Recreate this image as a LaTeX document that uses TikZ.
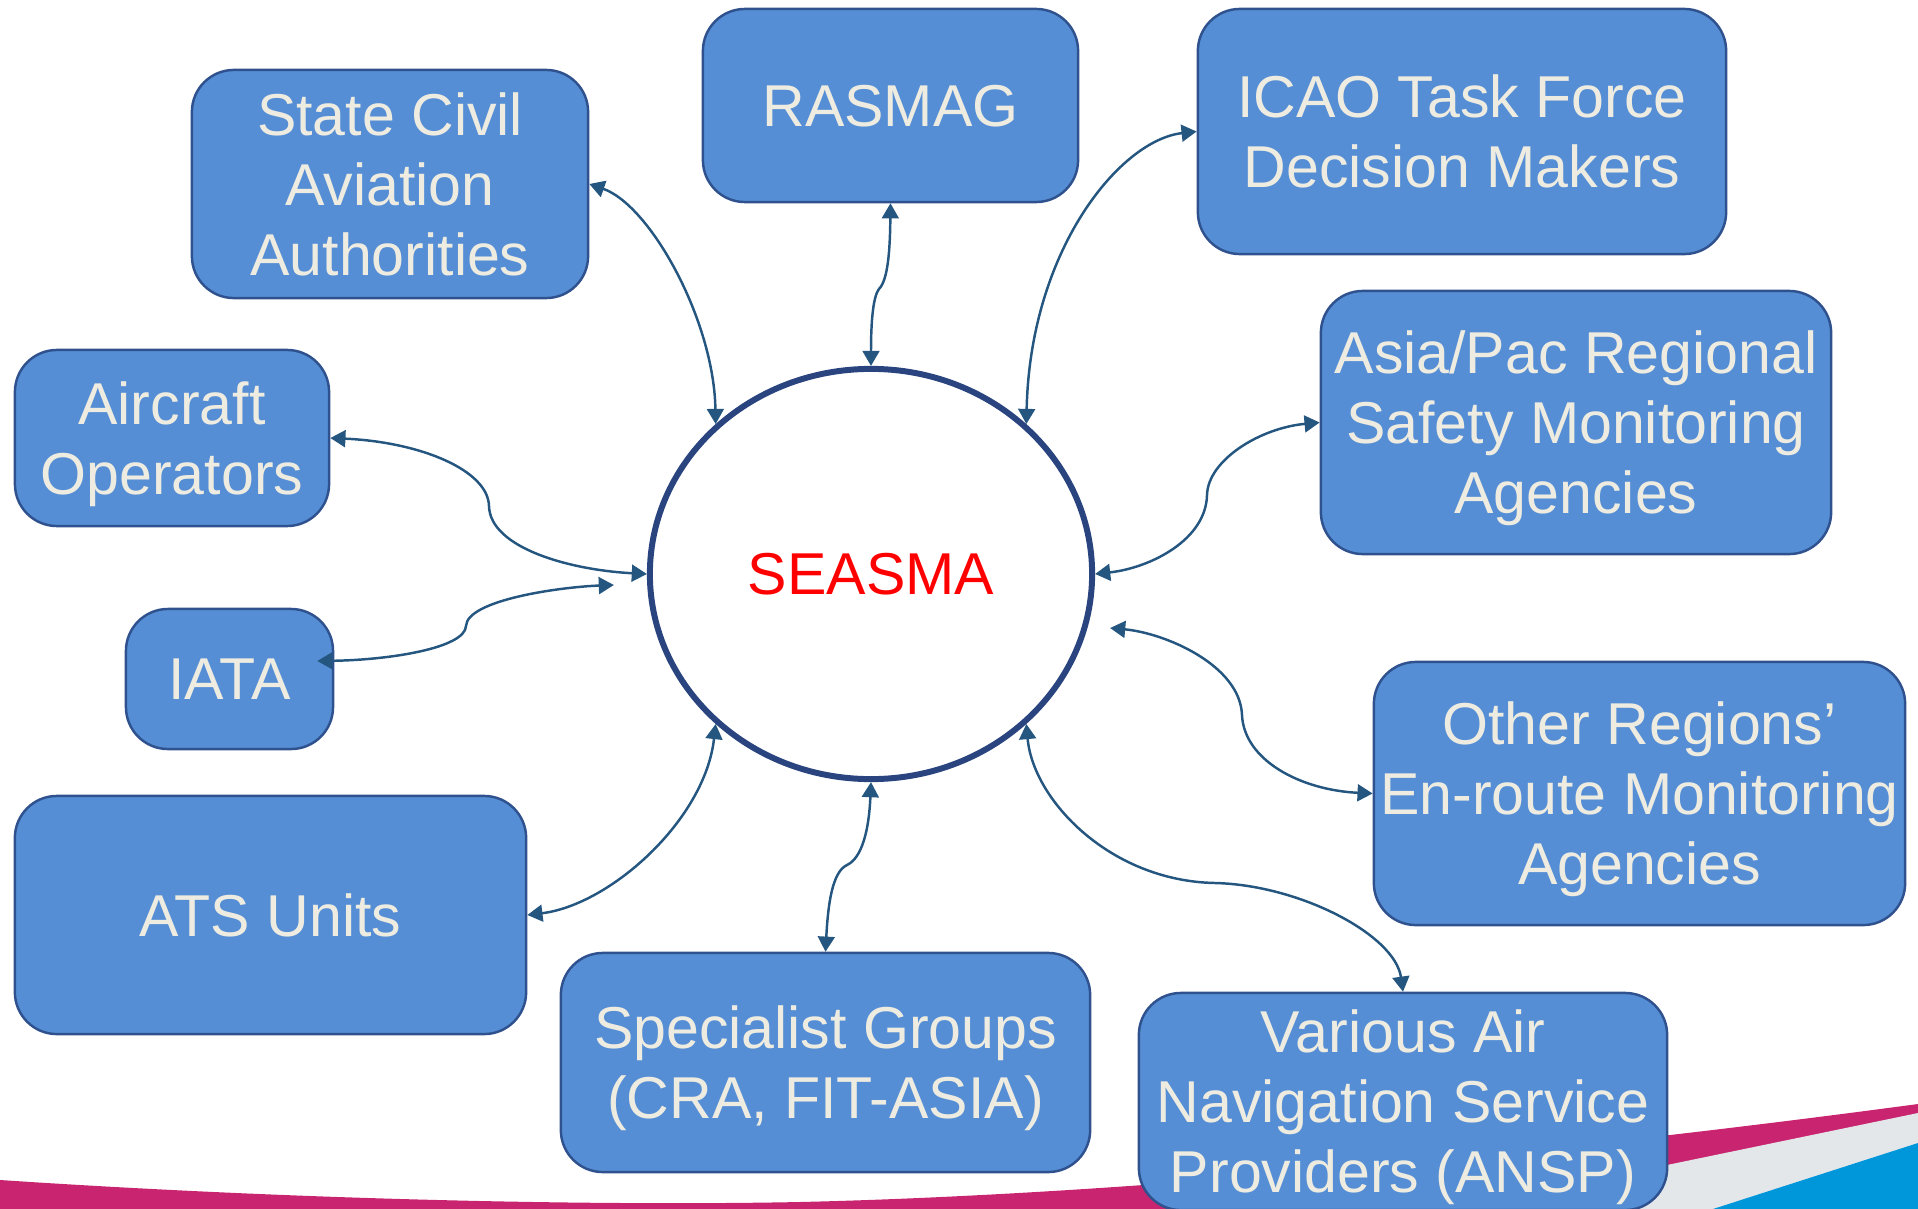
\documentclass[tikz,border=0pt]{standalone}
\usepackage{fontspec}
\setmainfont{Liberation Sans}
\usepackage{xcolor}
\usetikzlibrary{shapes.geometric,arrows.meta}

\definecolor{boxfill}{HTML}{558ED5}
\definecolor{boxline}{HTML}{2F528F}
\definecolor{boxtext}{HTML}{EEECE1}
\definecolor{ringline}{HTML}{2A4480}
\definecolor{linkcol}{HTML}{245680}
\definecolor{bandpink}{HTML}{C8246F}
\definecolor{bandgrey}{HTML}{E4E7EA}
\definecolor{bandblue}{HTML}{0096DA}

\begin{document}
\begin{tikzpicture}[x=0.01cm, y=-0.01cm,
    agency/.style={draw=boxline, line width=0.7pt, fill=boxfill, rounded corners=0.42cm,
        text=boxtext, align=center, inner sep=1pt, text depth=0pt,
        font=\fontsize{16.8}{19.9}\selectfont},
    hub/.style={ellipse, draw=ringline, line width=1.7pt, fill=white, inner sep=0pt,
        minimum width=4.42cm, minimum height=4.10cm, text=red,
        font=\fontsize{16.8}{19.9}\selectfont},
    link/.style={draw=linkcol, line width=0.7pt,
        {Triangle[length=4.3pt,width=4.8pt]}-{Triangle[length=4.3pt,width=4.8pt]}}]

    \useasboundingbox (0,0) rectangle (1918,1209);

    % slide band along the bottom
    \fill[bandpink] (0,1180) .. controls (300,1200) and (600,1206) .. (800,1202)
        .. controls (1100,1195) and (1500,1160) .. (1918,1104) -- (1918,1209) -- (0,1209) -- cycle;
    \fill[bandgrey] (1440,1209) -- (1667,1165) -- (1918,1113) -- (1918,1209) -- cycle;
    \fill[bandblue] (1713,1209) -- (1918,1143) -- (1918,1209) -- cycle;

    \node[hub] (seasma) at (871,574) {SEASMA};

    \node[agency, minimum width=3.96cm, minimum height=2.28cm] (sca) at (390,184)
        {State Civil\\Aviation\\Authorities};
    \node[agency, minimum width=3.75cm, minimum height=1.93cm] (rasmag) at (890.5,105.5)
        {RASMAG};
    \node[agency, minimum width=5.28cm, minimum height=2.45cm] (icao) at (1462,131.5)
        {ICAO Task Force\\Decision Makers};
    \node[agency, minimum width=3.14cm, minimum height=1.76cm] (ao) at (172,438)
        {Aircraft\\Operators};
    \node[agency, minimum width=5.10cm, minimum height=2.63cm] (apr) at (1576,422.5)
        {Asia/Pac Regional\\Safety Monitoring\\Agencies};
    \node[agency, minimum width=2.07cm, minimum height=1.40cm] (iata) at (229.5,679)
        {IATA};
    \node[agency, minimum width=5.31cm, minimum height=2.63cm] (orr) at (1639.5,793.5)
        {Other Regions’\\En-route Monitoring\\Agencies};
    \node[agency, minimum width=5.11cm, minimum height=2.38cm] (ats) at (270.5,915)
        {ATS Units};
    \node[agency, minimum width=5.29cm, minimum height=2.19cm] (sg) at (825.5,1062.5)
        {Specialist Groups\\(CRA, FIT-ASIA)};
    \node[agency, minimum width=5.28cm, minimum height=2.17cm] (ansp) at (1403,1101.5)
        {Various Air\\Navigation Service\\Providers (ANSP)};

    \coordinate (iatatip) at ([shift={(-33,11)}]seasma.west);
    \coordinate (ortip) at ([shift={(15,54)}]seasma.east);

    \draw[link] (sca.east) .. controls (650,205) and (714,320) .. (seasma.136);
    \draw[link] (rasmag.south) .. controls (890,250) and (888,280) .. (879,289)
        .. controls (872,298) and (871,330) .. (seasma.north);
    \draw[link] (icao.west) .. controls (1120,140) and (1030,250) .. (seasma.44);
    \draw[link] (ao.east) .. controls (420,442) and (488,470) .. (489,506)
        .. controls (490,548) and (570,570) .. (seasma.west);
    \draw[link] ([shift={(-17,-18)}]iata.east) .. controls (390,660) and (465,648) .. (466,626)
        .. controls (467,600) and (560,587) .. (iatatip);
    \draw[link] (ats.east) .. controls (610,905) and (705,820) .. (seasma.224);
    \draw[link] (sg.north) .. controls (828,905) and (832,872) .. (847,865)
        .. controls (862,858) and (869,830) .. (seasma.south);
    \draw[link] (ansp.north) .. controls (1395,935) and (1300,885) .. (1215,883)
        .. controls (1110,881) and (1033,800) .. (seasma.316);
    \draw[link] (orr.west) .. controls (1300,790) and (1244,760) .. (1242,715)
        .. controls (1240,665) and (1165,633) .. (ortip);
    \draw[link] (apr.west) .. controls (1260,428) and (1208,460) .. (1207,495)
        .. controls (1206,540) and (1150,568) .. (seasma.east);
\end{tikzpicture}
\end{document}
